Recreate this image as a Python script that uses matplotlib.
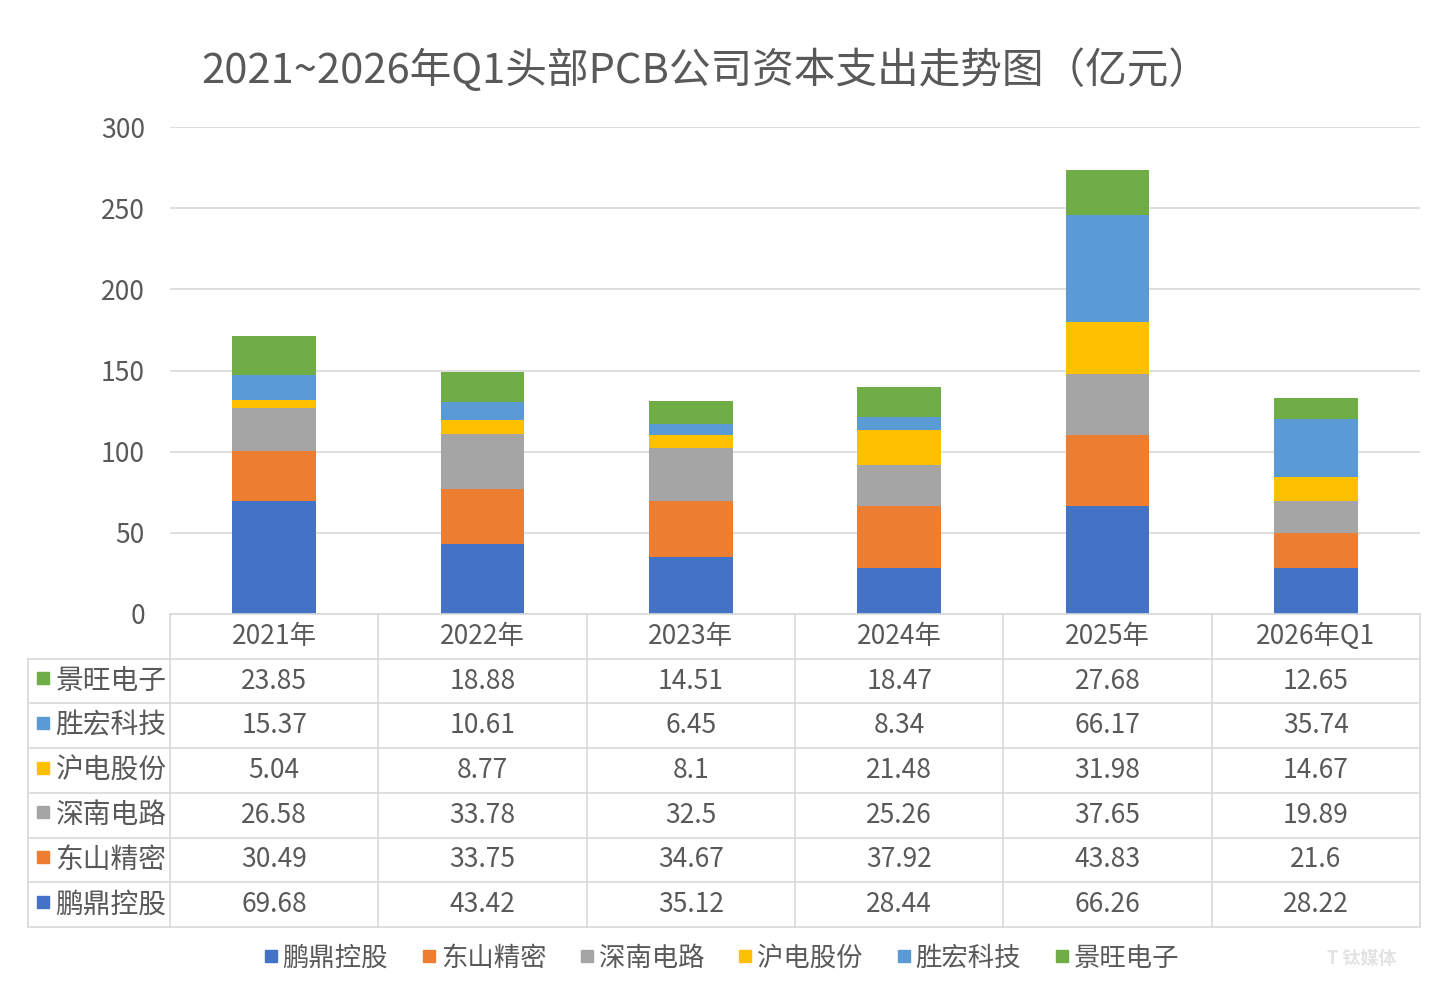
import matplotlib
matplotlib.use("Agg")
import matplotlib.pyplot as plt
from matplotlib.lines import Line2D
import numpy as np

plt.rcParams['font.family'] = ['Noto Sans CJK SC', 'DejaVu Sans']

years = ["2021年", "2022年", "2023年", "2024年", "2025年", "2026年Q1"]
companies = ["鹏鼎控股", "东山精密", "深南电路", "沪电股份", "胜宏科技", "景旺电子"]
pengding = [69.68, 43.42, 35.12, 28.44, 66.26, 28.22]
dongshan = [30.49, 33.75, 34.67, 37.92, 43.83, 21.6]
shennan = [26.58, 33.78, 32.5, 25.26, 37.65, 19.89]
hudian = [5.04, 8.77, 8.1, 21.48, 31.98, 14.67]
shenghong = [15.37, 10.61, 6.45, 8.34, 66.17, 35.74]
jingwang = [23.85, 18.88, 14.51, 18.47, 27.68, 12.65]
series = [pengding, dongshan, shennan, hudian, shenghong, jingwang]
colors = ["#4472C4", "#ED7D31", "#A5A5A5", "#FFC000", "#5B9BD5", "#70AD47"]

TXT = "#595959"
GRID = "#d9d9d9"
FS = 19

W, H = 1439, 998
fig = plt.figure(figsize=(W / 100, H / 100), dpi=100)
ax = fig.add_axes([170 / W, 1 - 614 / H, 1250 / W, 487 / H])

x = np.arange(len(years))
bottom = np.zeros(len(years))
for vals, c, name in zip(series, colors, companies):
    ax.bar(x, vals, 0.4, bottom=bottom, color=c, label=name, zorder=2)
    bottom += np.array(vals)

ax.set_xlim(-0.5, len(years) - 0.5)
ax.set_ylim(0, 300)
ax.set_yticks(range(0, 301, 50))
ax.set_xticks([])
ax.tick_params(axis="y", length=0, pad=18, labelsize=FS, labelcolor=TXT)
ax.grid(axis="y", color=GRID, lw=1.2, zorder=0)
for s in ax.spines.values():
    s.set_visible(False)

# data table below the axis
row_h = 44.7 / 487
left = (28 - 170) / 1250
n_rows = len(companies) + 1
lk = dict(transform=ax.transAxes, color=GRID, lw=1.2, clip_on=False)
ax.add_line(Line2D([0, 1], [0, 0], **lk))
for k in range(1, n_rows + 1):
    ax.add_line(Line2D([left, 1], [-k * row_h] * 2, **lk))
for i in range(len(years) + 1):
    ax.add_line(Line2D([i / len(years)] * 2, [0, -n_rows * row_h], **lk))
ax.add_line(Line2D([left, left], [-row_h, -n_rows * row_h], **lk))

for i, yl in enumerate(years):
    ax.text((i + 0.5) / len(years), -0.5 * row_h, yl, transform=ax.transAxes,
            ha="center", va="center", fontsize=FS, color=TXT)

table_order = list(range(len(companies)))[::-1]
for r, si in enumerate(table_order):
    yc = -(r + 1.5) * row_h
    ax.plot([left + 0.012], [yc + 0.006], marker="s", ms=8, color=colors[si],
            transform=ax.transAxes, clip_on=False)
    ax.text(left + 0.022, yc, companies[si], transform=ax.transAxes,
            ha="left", va="center", fontsize=FS + 1, color=TXT)
    for i, v in enumerate(series[si]):
        ax.text((i + 0.5) / len(years), yc, f"{v:g}", transform=ax.transAxes,
                ha="center", va="center", fontsize=FS, color=TXT)

handles = [Line2D([], [], marker="s", ls="", ms=8, color=c) for c in colors]
fig.legend(handles, companies, loc="center", bbox_to_anchor=(721 / W, 1 - 958 / H),
           ncol=6, frameon=False, fontsize=FS, labelcolor=TXT,
           handlelength=0.6, handletextpad=0.15, columnspacing=1.25)

fig.text(706 / W, 1 - 70 / H, "2021~2026年Q1头部PCB公司资本支出走势图（亿元）",
         ha="center", va="center", fontsize=30, color=TXT)

# faint watermark
fig.text(1362 / W, 1 - 958 / H, "T 钛媒体", ha="center", va="center",
         fontsize=13, color="#e3e3e3", fontweight="bold")

fig.savefig("out.png", dpi=100)
